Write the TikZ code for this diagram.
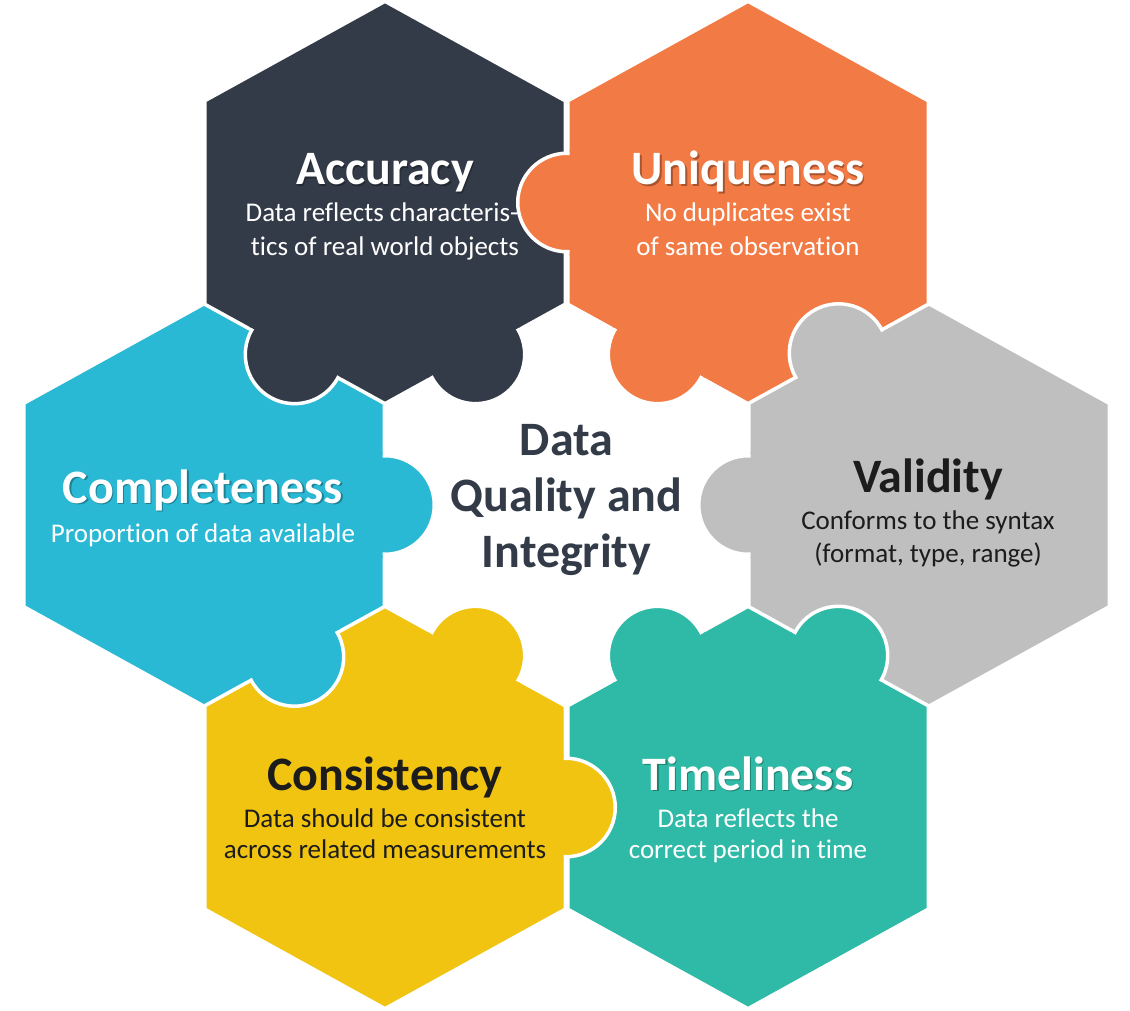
\documentclass[tikz,border=0pt]{standalone}
\usepackage{fontspec}
\setmainfont{Carlito}[Ligatures={NoCommon}]
\usetikzlibrary{calc}

\definecolor{slate}{HTML}{343B48}
\definecolor{tangerine}{HTML}{F27A44}
\definecolor{sky}{HTML}{29B9D5}
\definecolor{silver}{HTML}{BFBFBF}
\definecolor{mustard}{HTML}{F0C410}
\definecolor{jade}{HTML}{2EBAA6}
\definecolor{ink}{HTML}{1C1C1C}

% pointy-top hexagon around the current origin
\newcommand\hexpath{(0,-199) -- (178.5,-100.5) -- (178.5,100.5) -- (0,199) -- (-178.5,100.5) -- (-178.5,-100.5) -- cycle}

\begin{document}
\begin{tikzpicture}[x=1pt,y=-1pt,
  title/.style={font=\fontsize{48}{54}\selectfont\bfseries, anchor=base, inner sep=0pt},
  desc/.style={font=\fontsize{27}{32}\selectfont, anchor=base, inner sep=0pt},
  shade/.style={text=black, opacity=0.3}]

\fill[white] (0,0) rectangle (1130,1011);
\useasboundingbox (0,0) rectangle (1130,1011);

% centres of the six pieces
\coordinate (acc) at (385,202.5);
\coordinate (uni) at (748,202.5);
\coordinate (com) at (204,505);
\coordinate (val) at (929,505);
\coordinate (con) at (385,807.5);
\coordinate (tim) at (748,807.5);

% hexagon bodies
\foreach \h/\col in {acc/slate, uni/tangerine, com/sky, val/silver, con/mustard, tim/jade}
  \fill[\col, shift={(\h)}] \hexpath;

% puzzle knobs: piece, knob centre relative to piece centre, colour
\def\knobs{acc/-90.46/151.94/slate, acc/90.46/151.94/slate,
  uni/-181/0/tangerine, uni/-90.46/151.94/tangerine,
  val/-90.46/-151.94/silver, val/-181/0/silver,
  com/181/0/sky, com/90.46/151.94/sky,
  con/90.46/-151.94/mustard, con/181/0/mustard,
  tim/-90.46/-151.94/jade, tim/90.46/-151.94/jade}

\foreach \h/\dx/\dy/\col in \knobs
  \filldraw[fill=\col, draw=white, line width=3.5pt, shift={(\h)}] (\dx,\dy) circle[radius=49.25pt];

% reopen each knob's neck inside its own piece
\foreach \h/\dx/\dy/\col in \knobs {
  \begin{scope}[shift={(\h)}]
    \clip \hexpath;
    \fill[\col] (\dx,\dy) circle[radius=53pt];
  \end{scope}
}

% Accuracy
\node[title, shade] (accS) at (386.5,186.5) {Accuracy};
\node[title, text=white] (accT) at (385,185) {Accuracy};
\node[desc, text=white] (accD1) at (382,222) {Data reflects characteris-};
\node[desc, text=white] (accD2) at (385,255) {tics of real world objects};

% Uniqueness
\node[title, shade] (uniS) at (749.5,186.5) {Uniqueness};
\node[title, text=white] (uniT) at (748,185) {Uniqueness};
\node[desc, text=white] (uniD1) at (748,222) {No duplicates exist};
\node[desc, text=white] (uniD2) at (748,255) {of same observation};

% Completeness
\node[title, shade] (comS) at (204.5,504.5) {Completeness};
\node[title, text=white] (comT) at (203,503) {Completeness};
\node[desc, text=white] (comD1) at (203,542) {Proportion of data available};

% Validity
\node[title, text=ink] (valT) at (928,492) {Validity};
\node[desc, text=ink] (valD1) at (928,529.5) {Conforms to the syntax};
\node[desc, text=ink] (valD2) at (928,562) {(format, type, range)};

% Consistency
\node[title, text=ink] (conT) at (385,790) {Consistency};
\node[desc, text=ink] (conD1) at (385,827) {Data should be consistent};
\node[desc, text=ink] (conD2) at (385,858.5) {across related measurements};

% Timeliness
\node[title, shade] (timS) at (749.5,791.5) {Timeliness};
\node[title, text=white] (timT) at (748,790) {Timeliness};
\node[desc, text=white] (timD1) at (748,827) {Data reflects the};
\node[desc, text=white] (timD2) at (748,858.5) {correct period in time};

% centre caption
\node[title, text=slate] (mid1) at (566.5,455) {Data};
\node[title, text=slate] (mid2) at (566.5,511.5) {Quality and};
\node[title, text=slate] (mid3) at (566.5,567) {Integrity};

\end{tikzpicture}
\end{document}
